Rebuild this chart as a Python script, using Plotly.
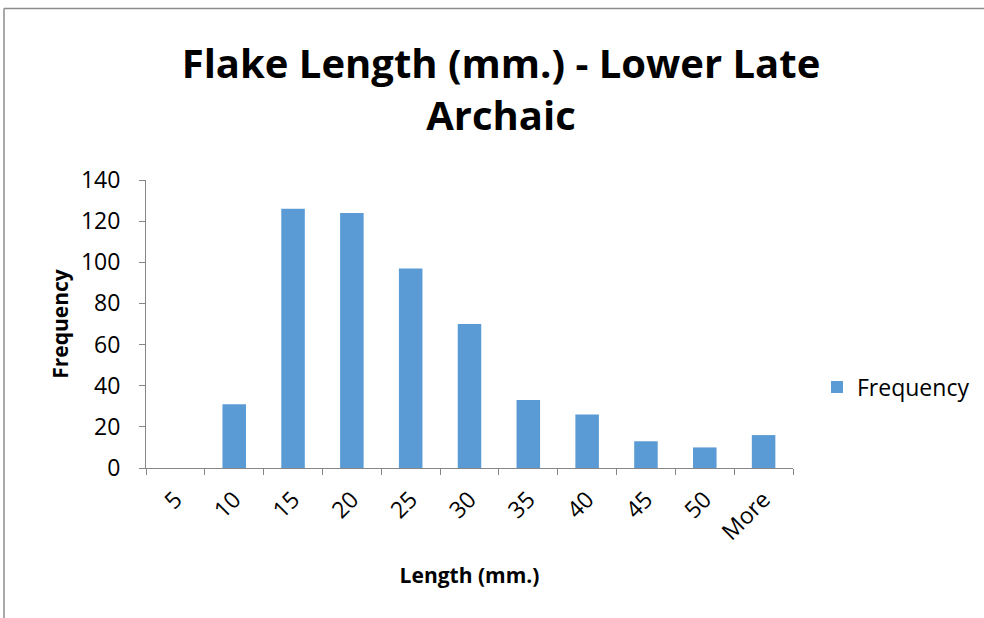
import plotly.graph_objects as go

# Flake length bins (mm.) and counts
bins = ["5", "10", "15", "20", "25", "30", "35", "40", "45", "50", "More"]
frequency = [0, 31, 126, 124, 97, 70, 33, 26, 13, 10, 16]

y_ticks = [0, 20, 40, 60, 80, 100, 120, 140]

W, H = 984, 618
L, R, T, B = 146, 191, 180, 150
pw, ph = W - L - R, H - T - B

font = "Open Sans"
axis_grey = "#868686"

fig = go.Figure(
    go.Bar(
        x=bins,
        y=frequency,
        name="Frequency",
        marker=dict(color="#5b9bd5", line=dict(width=0)),
        showlegend=True,
    )
)

fig.update_layout(
    width=W,
    height=H,
    margin=dict(l=L, r=R, t=T, b=B, autoexpand=False),
    paper_bgcolor="white",
    plot_bgcolor="white",
    bargap=0.6,
    font=dict(family=font, color="black"),
    title=dict(
        text="<b>Flake Length (mm.) - Lower Late<br>Archaic</b>",
        font=dict(family=font, size=40, color="black"),
        x=501 / W,
        xanchor="center",
        y=1 - 78 / H,
        yanchor="middle",
    ),
    xaxis=dict(
        type="category",
        tickangle=-45,
        tickson="boundaries",
        ticks="outside",
        ticklen=6,
        tickcolor=axis_grey,
        showline=True,
        linecolor=axis_grey,
        linewidth=1,
        showgrid=False,
        ticklabelstandoff=8,
        tickfont=dict(family=font, size=23, color="black"),
        title=dict(
            text="<b>Length (mm.)</b>",
            font=dict(family=font, size=21, color="black"),
            standoff=22,
        ),
    ),
    yaxis=dict(
        range=[0, 140],
        tickvals=y_ticks,
        ticks="outside",
        ticklen=6,
        tickcolor=axis_grey,
        showline=True,
        linecolor=axis_grey,
        linewidth=1,
        showgrid=False,
        zeroline=False,
        ticklabelstandoff=14,
        tickfont=dict(family=font, size=23, color="black"),
        title=dict(
            text="<b>Frequency</b>",
            font=dict(family=font, size=21, color="black"),
            standoff=6,
        ),
    ),
    legend=dict(
        x=(817 - L) / pw,
        y=(H - B - 387) / ph,
        xanchor="left",
        yanchor="middle",
        font=dict(family=font, size=23, color="black"),
        bgcolor="rgba(0,0,0,0)",
        itemwidth=30,
    ),
)

# Chart-area border (left and top edges)
bx = (4 - L) / pw
by = (H - B - 8.5) / ph
fig.add_shape(type="line", xref="paper", yref="paper", x0=bx, x1=2, y0=by, y1=by,
              line=dict(color="#8c8c8c", width=1.5))
fig.add_shape(type="line", xref="paper", yref="paper", x0=bx, x1=bx, y0=by, y1=-2,
              line=dict(color="#8c8c8c", width=1.5))

fig.write_html("out.html")
